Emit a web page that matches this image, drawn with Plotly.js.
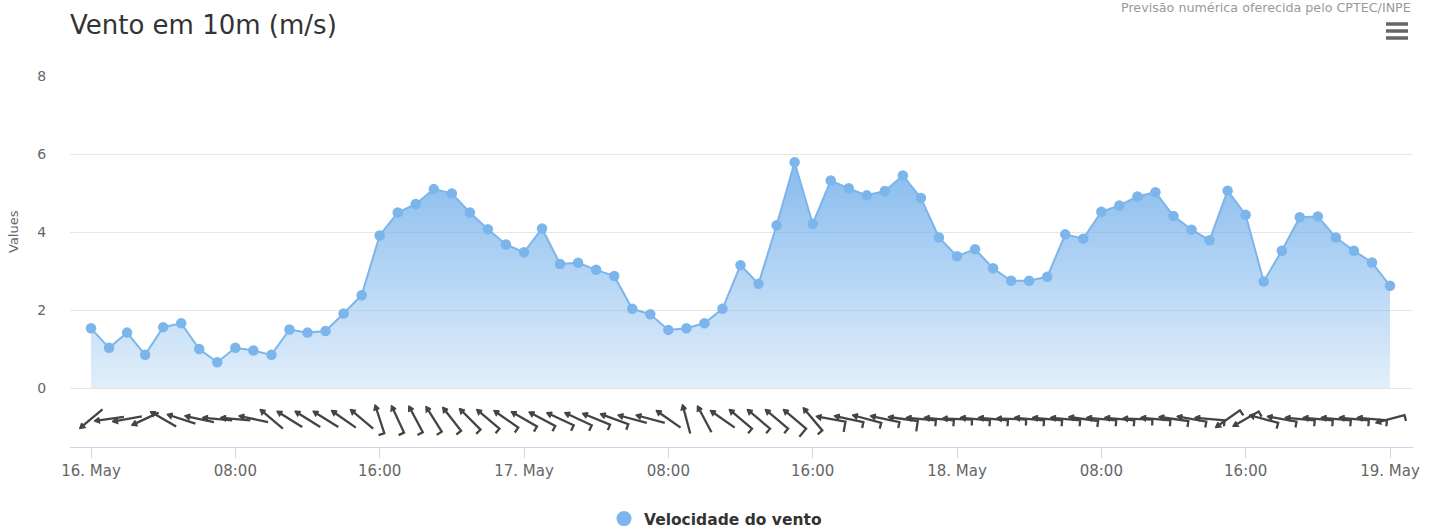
<!DOCTYPE html>
<html>
<head>
<meta charset="utf-8">
<script src="https://cdn.plot.ly/plotly-3.0.1.min.js"></script>
<style>html,body{margin:0;padding:0;background:#fff}#chart{width:1431px;height:531px}</style>
</head>
<body>
<div id="chart"></div>
<script>
// ---------- data ----------
const seriesName = 'Velocidade do vento';
const chartTitle = 'Vento em 10m (m/s)';
const creditText = 'Previsão numérica oferecida pelo CPTEC/INPE';
const yTitle = 'Values';
const startUTC = Date.UTC(2024, 4, 16, 0, 0, 0); // 16 May, hourly steps
const stepHours = 1;
// wind speed (m/s), hourly
const speed = [1.53,1.03,1.42,0.85,1.56,1.66,1.00,0.66,1.03,0.96,0.85,1.50,1.42,1.46,1.91,2.38,
  3.91,4.50,4.72,5.10,4.99,4.50,4.07,3.68,3.48,4.09,3.18,3.21,3.03,2.87,2.03,1.89,1.49,1.53,1.66,
  2.03,3.15,2.67,4.17,5.79,4.21,5.32,5.12,4.94,5.05,5.45,4.87,3.86,3.38,3.56,3.07,2.75,2.75,2.85,
  3.94,3.83,4.52,4.68,4.91,5.02,4.41,4.06,3.79,5.06,4.44,2.73,3.52,4.38,4.40,3.86,3.52,3.22,2.62];
// wind direction (degrees, meteorological "from")
const direction = [50,82,80,65,120,108,102,95,95,102,
  130,122,122,122,125,130,162,155,152,148,
  142,135,130,125,120,118,115,115,112,110,
  105,105,125,165,152,125,130,130,130,130,
  140,100,102,105,102,98,95,95,92,95,
  95,92,95,95,95,98,95,95,92,95,
  98,100,95,55,60,105,100,95,95,95,
  95,95,75];
const tickLabels = ['16. May','08:00','16:00','17. May','08:00','16:00','18. May','08:00','16:00','19. May'];
const tickEvery = 8;
const yTicks = [0,2,4,6,8];

// ---------- layout geometry ----------
const W = 1431, H = 531;
const M = {l:70, r:18, t:76, b:84, autoexpand: false};
const plotW = W - M.l - M.r, plotH = H - M.t - M.b;
const HOUR = 3600e3;
const times = speed.map((_, i) => startUTC + i * stepHours * HOUR);
const xRange = [startUTC - 1.164 * HOUR, startUTC + 73.275 * HOUR];
const barbBandPx = 59;
const y2Dom = barbBandPx / plotH;
const y2Range = [-0.95, 1.05];
const pxPerMs = plotW / (xRange[1] - xRange[0]);
const pxPerY2 = barbBandPx / (y2Range[1] - y2Range[0]);
const px2paperX = p => (p - M.l) / plotW;
const px2paperY = p => (H - M.b - p) / plotH;

// ---------- wind barbs (Highcharts-style windArrow) ----------
const u = 1.5;
function barbSegments(v) {
  const segs = [];
  let cur = [[0,7*u],[0,-10*u]];
  let knots = v * 1.943844, pos = -10;
  let full = Math.floor(knots / 10); knots -= full * 10;
  let half = Math.floor(knots / 5);
  const addBarb = (len) => {
    if (pos === -10) { cur.push([len*u, pos*u]); }
    else { segs.push(cur); cur = [[0,pos*u],[len*u,pos*u]]; }
    pos += 3;
  };
  while (full-- > 0) addBarb(7);
  while (half-- > 0) addBarb(4);
  segs.push(cur);
  return segs;
}
const headLocal = [[-1.9*u,6.6*u],[0,10*u],[1.9*u,6.6*u],[-1.9*u,6.6*u]];
const bx = [], by = [];
const heads = [];
times.forEach((t, i) => {
  const a = direction[i] * Math.PI / 180, c = Math.cos(a), s = Math.sin(a);
  const toData = ([lx, ly]) => {
    const sx = lx * c - ly * s, sy = lx * s + ly * c; // screen px, y down
    return [t + sx / pxPerMs, -sy / pxPerY2];
  };
  barbSegments(speed[i]).forEach(seg => {
    seg.forEach(p => { const d = toData(p); bx.push(d[0]); by.push(d[1]); });
    bx.push(null); by.push(null);
  });
  const hp = headLocal.map(toData);
  heads.push({
    x: hp.map(p => p[0]), y: hp.map(p => p[1]), type: 'scatter', mode: 'lines',
    fill: 'toself', fillcolor: '#434348', line: {color: '#434348', width: 1.2},
    showlegend: false, hoverinfo: 'skip', xaxis: 'x', yaxis: 'y2', cliponaxis: false
  });
});

const FONT = 'DejaVu Sans, Verdana, sans-serif';
const blue = '#7cb5ec';

const traces = [
  {
    x: times, y: speed, type: 'scatter', mode: 'lines+markers',
    line: {color: blue, width: 2},
    marker: {color: blue, size: 10.5},
    fill: 'tozeroy',
    fillgradient: {type: 'vertical', start: 0, stop: 5.8,
      colorscale: [[0, 'rgba(124,181,236,0.22)'], [1, 'rgba(124,181,236,0.92)']]},
    showlegend: false, hoverinfo: 'skip', xaxis: 'x', yaxis: 'y'
  },
  {
    x: bx, y: by, type: 'scatter', mode: 'lines',
    line: {color: '#434348', width: 2.3},
    showlegend: false, hoverinfo: 'skip', xaxis: 'x', yaxis: 'y2', cliponaxis: false
  },
  ...heads,
  {
    x: [null], y: [null], type: 'scatter', mode: 'markers', name: seriesName,
    marker: {color: blue, size: 15}, xaxis: 'x', yaxis: 'y', hoverinfo: 'skip'
  }
];

const hamburger = [24, 31, 38].map(py => ({
  type: 'line', xref: 'paper', yref: 'paper',
  x0: px2paperX(1386), x1: px2paperX(1408), y0: px2paperY(py), y1: px2paperY(py),
  line: {color: '#666666', width: 3.5}
}));

const layout = {
  width: W, height: H, autosize: false,
  margin: M,
  paper_bgcolor: '#fff', plot_bgcolor: '#fff',
  font: {family: FONT, color: '#666666'},
  hovermode: false,
  title: {text: chartTitle, xref: 'container', yref: 'container', x: 70 / W, xanchor: 'left',
    y: 1 - 25 / H, yanchor: 'middle', font: {family: FONT, size: 26, color: '#333333'}, automargin: false},
  xaxis: {
    type: 'date', range: xRange, anchor: 'y2', automargin: false,
    tickvals: times.filter((_, i) => i % tickEvery === 0), ticktext: tickLabels,
    showline: true, linecolor: '#ccd6eb', linewidth: 1,
    ticks: 'outside', ticklen: 10, tickcolor: '#ccd6eb', tickwidth: 1,
    showgrid: false, zeroline: false, tickfont: {size: 15, color: '#666666'}
  },
  yaxis: {
    domain: [y2Dom, 1], range: [0, 8], tickvals: yTicks, ticktext: yTicks.map(String), automargin: false,
    showgrid: true, gridcolor: '#e6e6e6', gridwidth: 1, zeroline: true, zerolinecolor: '#e6e6e6', zerolinewidth: 1,
    showline: false, ticks: 'outside', ticklen: 20, tickcolor: 'rgba(0,0,0,0)',
    tickfont: {size: 14, color: '#666666'}, fixedrange: true
  },
  yaxis2: {
    domain: [0, y2Dom], range: y2Range, showgrid: false, zeroline: false, automargin: false,
    showticklabels: false, showline: false, fixedrange: true
  },
  showlegend: true,
  legend: {orientation: 'h', xref: 'paper', x: px2paperX(W / 2), xanchor: 'center',
    y: px2paperY(519), yanchor: 'middle',
    font: {family: FONT, size: 15.5, color: '#333333', weight: 700}, bgcolor: 'rgba(0,0,0,0)'},
  annotations: [
    {text: creditText, xref: 'paper', yref: 'paper', x: 1, xanchor: 'right',
      y: px2paperY(8), yanchor: 'middle', showarrow: false, font: {size: 12.7, color: '#999999'}},
    {text: yTitle, xref: 'paper', yref: 'paper', x: px2paperX(13), xanchor: 'center',
      y: px2paperY(232), yanchor: 'middle', textangle: -90, showarrow: false, font: {size: 13, color: '#666666'}}
  ],
  shapes: hamburger
};

Plotly.newPlot('chart', traces, layout, {displayModeBar: false, staticPlot: true});
</script>
</body>
</html>
